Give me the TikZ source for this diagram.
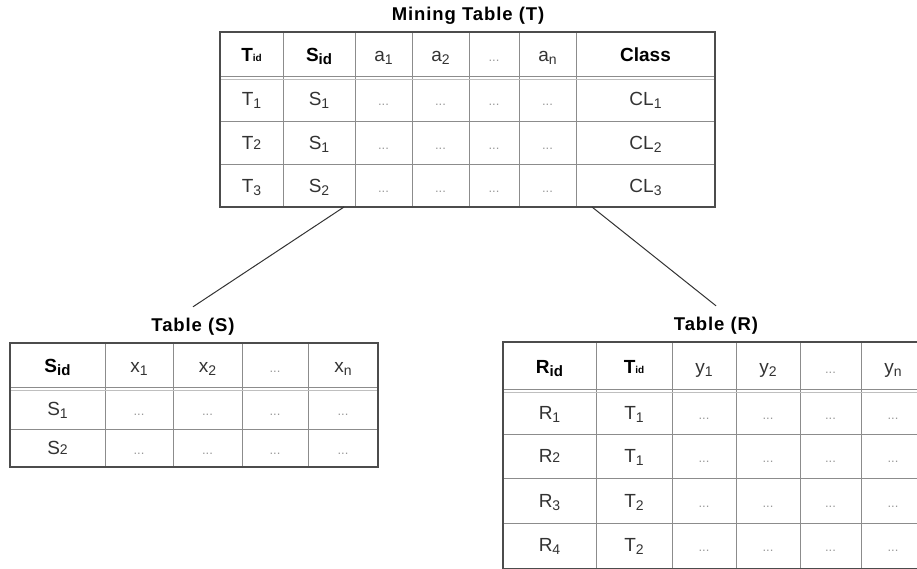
\documentclass[tikz,border=0pt]{standalone}
\usepackage{fontspec}
\setmainfont{Liberation Sans}
\newfontfamily\titlefont[LetterSpace=5]{Liberation Sans}
\usetikzlibrary{positioning}

% subscripts: lowered, at the baseline, and the small "id" tags
\newcommand{\subl}[1]{\raisebox{-3pt}{\fontsize{14}{14}\selectfont #1}}
\newcommand{\subb}[1]{{\fontsize{14}{14}\selectfont #1}}
\newcommand{\idt}{{\fontsize{10}{10}\selectfont\bfseries id}}
\newcommand{\ids}{\raisebox{-3pt}{\fontsize{15}{15}\selectfont\bfseries id}}

\tikzset{
  cell/.style  = {inner sep=0pt, text height=13pt, text depth=0pt,
                  font=\fontsize{19}{22}\selectfont, text=black!80},
  head/.style  = {cell, font=\fontsize{19}{22}\selectfont\bfseries, text=black},
  dots/.style  = {cell, font=\fontsize{13}{13}\selectfont, text=black!40},
  title/.style = {inner xsep=0pt, inner ysep=11.5pt, text height=13pt, text depth=0pt,
                  font=\fontsize{18.5}{22}\selectfont\titlefont\bfseries},
  outer/.style = {draw=black!70, line width=1.2pt},
  grid/.style  = {draw=black!45, line width=0.9pt},
  twin/.style  = {draw=black!25, line width=0.9pt},
  link/.style  = {draw=black!80, line width=1pt}
}

\begin{document}
\begin{tikzpicture}[x=1pt, y=-1pt]
    \useasboundingbox (0,0) rectangle (917,568);
    \clip (0,0) rectangle (917,568);

    % Mining table (T)
    \node[title] (ttitle) at (468,14) {Mining Table (T)};
    \foreach \x in {283,355,412,469,519,576} \draw[grid] (\x,32) -- (\x,207);
    \foreach \y in {121,164} \draw[grid] (220,\y) -- (715,\y);
    \draw[grid] (220,76) -- (715,76);
    \draw[twin] (220,79.5) -- (715,79.5);
    \draw[outer] (220,32) rectangle (715,207);

    \node[head] (t01) at (251.5,54.5) {T\idt};
    \node[head] (t02) at (319,54.5)   {S\ids};
    \node[cell] (t03) at (383.5,54.5) {a\subl1};
    \node[cell] (t04) at (440.5,54.5) {a\subl2};
    \node[dots] (t05) at (494,54.5)   {...};
    \node[cell] (t06) at (547.5,54.5) {a\subl n};
    \node[head] (t07) at (645.5,54.5) {Class};
    \foreach \y/\rowT/\rowS/\rowC [count=\r] in
        {99/{T\subl1}/{S\subl1}/{CL\subl1},
         142.5/{T\subb2}/{S\subl1}/{CL\subl2},
         185.5/{T\subl3}/{S\subl2}/{CL\subl3}} {
      \node[cell] (t\r1) at (251.5,\y) {\rowT};
      \node[cell] (t\r2) at (319,\y)   {\rowS};
      \foreach \x [count=\c from 3] in {383.5,440.5,494,547.5}
        \node[dots] (t\r\c) at (\x,\y) {...};
      \node[cell] (t\r7) at (645.5,\y) {\rowC};
    }

    % Table (S)
    \node[title] (stitle) at (193,325) {Table (S)};
    \foreach \x in {105,173,242,308} \draw[grid] (\x,343) -- (\x,467);
    \draw[grid] (10,429) -- (378,429);
    \draw[grid] (10,387) -- (378,387);
    \draw[twin] (10,390.5) -- (378,390.5);
    \draw[outer] (10,343) rectangle (378,467);

    \node[head] (s01) at (57.5,365.5) {S\ids};
    \node[cell] (s02) at (139,365.5)  {x\subl1};
    \node[cell] (s03) at (207.5,365.5){x\subl2};
    \node[dots] (s04) at (275,365.5)  {...};
    \node[cell] (s05) at (343,365.5)  {x\subl n};
    \foreach \y/\rowS [count=\r] in {408.5/{S\subl1}, 448/{S\subb2}} {
      \node[cell] (s\r1) at (57.5,\y) {\rowS};
      \foreach \x [count=\c from 2] in {139,207.5,275,343}
        \node[dots] (s\r\c) at (\x,\y) {...};
    }

    % Table (R)
    \node[title] (rtitle) at (716,324) {Table (R)};
    \foreach \x in {596,672,736,800,861} \draw[grid] (\x,342) -- (\x,569);
    \foreach \y in {434,478,523} \draw[grid] (503,\y) -- (925,\y);
    \draw[grid] (503,389) -- (925,389);
    \draw[twin] (503,392.5) -- (925,392.5);
    \draw[outer] (503,342) rectangle (925,569);

    \node[head] (r01) at (549.5,366.5) {R\ids};
    \node[head] (r02) at (634,366.5)   {T\idt};
    \node[cell] (r03) at (704,366.5)   {y\subl1};
    \node[cell] (r04) at (768,366.5)   {y\subl2};
    \node[dots] (r05) at (830.5,366.5) {...};
    \node[cell] (r06) at (893,366.5)   {y\subl n};
    \foreach \y/\rowR/\rowT [count=\r] in
        {412.5/{R\subl1}/{T\subl1},
         456/{R\subb2}/{T\subl1},
         500.5/{R\subl3}/{T\subl2},
         545/{R\subl4}/{T\subl2}} {
      \node[cell] (r\r1) at (549.5,\y) {\rowR};
      \node[cell] (r\r2) at (634,\y)   {\rowT};
      \foreach \x [count=\c from 3] in {704,768,830.5,893}
        \node[dots] (r\r\c) at (\x,\y) {...};
    }

    % Links from T down to S and R
    \coordinate (t-s) at (344,207);
    \coordinate (t-r) at (592,207);
    \draw[link] (t-s) -- (stitle.north);
    \draw[link] (t-r) -- (rtitle.north);
\end{tikzpicture}
\end{document}
